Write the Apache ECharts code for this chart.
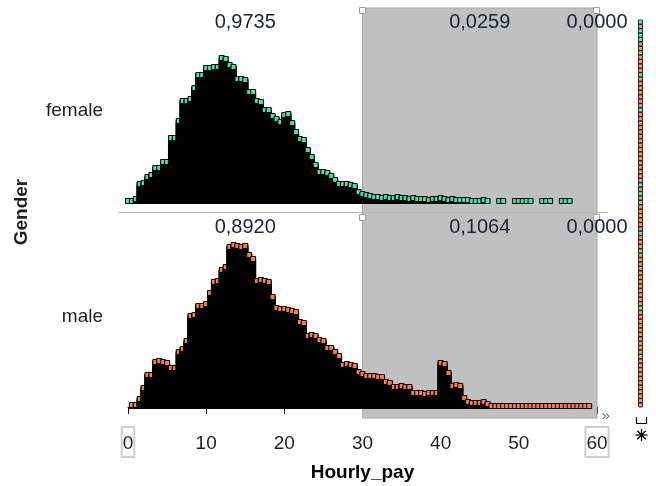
<!DOCTYPE html>
<html>
<head>
<meta charset="utf-8">
<script src="https://cdn.jsdelivr.net/npm/echarts@6/dist/echarts.min.js"></script>
<style>
html, body { margin: 0; padding: 0; background: #ffffff; }
#chart { width: 656px; height: 486px; }
</style>
</head>
<body>
<div id="chart"></div>
<script>
// Hourly pay, stacked dot plot split by gender (bins of 0.5 currency units)
const binWidth = 0.5;

// number of cases in each bin, bin i covers pay i * binWidth
const femaleCounts = [
  1, 1, 3, 18, 19, 25, 27, 34, 34, 40, 40, 64, 64, 81, 101, 101, 103, 114, 127, 127,
  134, 134, 135, 135, 144, 143, 137, 135, 123, 123, 122, 110, 110, 101, 100, 92, 92, 86, 83, 80,
  87, 88, 79, 70, 63, 62, 52, 45, 37, 30, 30, 29, 26, 22, 18, 18, 18, 17, 16, 10,
  8, 7, 6, 5, 5, 4, 5, 4, 4, 5, 4, 4, 3, 4, 3, 3, 3, 2, 3, 3,
  4, 3, 2, 3, 2, 2, 2, 2, 1, 1, 1, 2, 1, 0, 0, 1, 1, 0, 0, 1,
  1, 1, 1, 1, 0, 0, 1, 1, 1, 0, 0, 1, 1, 1, 0, 0, 0, 0, 0, 0
];
const maleCounts = [
  0, 2, 2, 8, 19, 32, 32, 45, 46, 45, 44, 39, 39, 55, 58, 66, 91, 92, 101, 101,
  103, 114, 125, 126, 137, 140, 160, 162, 161, 160, 161, 152, 148, 126, 127, 126, 125, 110, 99, 98,
  98, 97, 96, 95, 85, 84, 71, 72, 71, 67, 66, 59, 59, 55, 51, 42, 43, 42, 41, 35,
  33, 31, 31, 31, 30, 30, 25, 24, 20, 20, 21, 20, 20, 14, 14, 14, 13, 14, 14, 14,
  44, 43, 34, 21, 22, 21, 9, 5, 4, 4, 4, 5, 3, 1, 1, 1, 1, 1, 1, 1,
  1, 1, 1, 1, 1, 1, 1, 1, 1, 1, 1, 1, 1, 1, 1, 1, 1, 1, 1, 0
];

// shaded interval and the share of each gender falling below / inside / above it
const intervalBounds = [30, 60];
const femaleShares = ['0,9735', '0,0259', '0,0000'];
const maleShares = ['0,8920', '0,1064', '0,0000'];

const payTicks = [0, 10, 20, 30, 40, 50, 60];
const groupNames = ['female', 'male'];

// case list shown in the side strip (f = female, m = male)
const caseGenders = 'fmfffmmfmmmmfmmmmmmmfmmmmmmmmmmmmmmmmfmfmfmmmmmmfmmmfmmmmmmmmmmmmfmmmmmmmmmmfmmmmmmmmmmm'.split('');

const GREEN = '#3be5b2';
const ORANGE = '#f97a4a';
const FONT = '"Liberation Sans", Arial, sans-serif';

// one square per case, stacked upwards in its bin; buried squares read as solid black
function stackDots(counts, color) {
  const pts = [];
  counts.forEach(function (n, i) {
    for (let k = 1; k <= n; k++) {
      pts.push({ value: [i * binWidth, k], itemStyle: { color: k === n ? color : '#000000' } });
    }
  });
  return pts;
}

const chart = echarts.init(document.getElementById('chart'), null, { renderer: 'canvas' });

const payMin = payTicks[0];
const payMax = payTicks[payTicks.length - 1];

const dotSeries = function (name, idx, counts, color) {
  return {
    type: 'scatter',
    name: name,
    xAxisIndex: idx,
    yAxisIndex: idx,
    symbol: 'rect',
    symbolSize: 5,
    silent: true,
    progressive: 0,
    large: false,
    animation: false,
    itemStyle: { borderColor: '#000000', borderWidth: 1, opacity: 1 },
    data: stackDots(counts, color),
    z: 3
  };
};

chart.setOption({
  animation: false,
  backgroundColor: '#ffffff',
  grid: [
    { left: 128, right: 59, top: 8, bottom: 68 },
    { left: 128, right: 59, top: 52, height: 150 },
    { left: 128, right: 59, top: 237, height: 170 },
    { left: 637, width: 7, top: 22, height: 383 }
  ],
  xAxis: [
    { gridIndex: 0, type: 'value', min: payMin, max: payMax, show: false },
    { gridIndex: 1, type: 'value', min: payMin, max: payMax, show: false },
    {
      gridIndex: 2, type: 'value', min: payMin, max: payMax, interval: 10,
      position: 'bottom', offset: 12,
      splitLine: { show: false },
      axisLine: { show: true, lineStyle: { color: '#000000', width: 1 } },
      axisTick: { show: true, inside: false, length: 7, lineStyle: { color: '#000000', width: 1 } },
      axisLabel: {
        margin: 12,
        formatter: function (v) {
          return (v === payMin || v === payMax) ? '{box|' + v + '}' : '{n|' + v + '}';
        },
        rich: {
          box: {
            fontFamily: FONT, fontSize: 19, color: '#1e1e1e', lineHeight: 22,
            borderColor: '#cfcfcf', borderWidth: 2, padding: [7, 1, 4, 1]
          },
          n: { fontFamily: FONT, fontSize: 19, color: '#1e1e1e', lineHeight: 22, padding: [7, 1, 4, 1] }
        }
      },
      name: 'Hourly_pay',
      nameLocation: 'middle',
      nameGap: 44,
      nameTextStyle: { fontFamily: FONT, fontSize: 19, fontWeight: 'bold', color: '#000000' }
    },
    { gridIndex: 3, type: 'value', min: -1, max: 1, show: false }
  ],
  yAxis: [
    { gridIndex: 0, type: 'value', min: 0, max: 1, show: false },
    { gridIndex: 1, type: 'value', min: 0, max: 150, show: false },
    { gridIndex: 2, type: 'value', min: 0, max: 170, show: false },
    { gridIndex: 3, type: 'value', min: 0, max: caseGenders.length - 1, inverse: true, show: false }
  ],
  series: [
    {
      type: 'line', xAxisIndex: 0, yAxisIndex: 0, silent: true,
      data: [[payMin, 0], [payMax, 0]], showSymbol: false,
      lineStyle: { opacity: 0 }, z: 1,
      markArea: {
        silent: true,
        itemStyle: { color: '#c0c0c0', borderColor: '#a6a6a6', borderWidth: 1 },
        data: [[{ xAxis: intervalBounds[0] }, { xAxis: intervalBounds[1] }]]
      }
    },
    dotSeries(groupNames[0], 1, femaleCounts, GREEN),
    dotSeries(groupNames[1], 2, maleCounts, ORANGE),
    {
      type: 'scatter', xAxisIndex: 3, yAxisIndex: 3, symbol: 'rect', symbolSize: 4,
      silent: true, progressive: 0,
      data: caseGenders.map(function (g, i) {
        return { value: [0, i], itemStyle: { color: g === 'f' ? GREEN : ORANGE } };
      }),
      itemStyle: { borderColor: '#000000', borderWidth: 1 },
      z: 3
    }
  ]
});

// overlay: shares, group labels, handles and small glyphs, placed through the pay axis
const px = function (v) { return chart.convertToPixel({ xAxisIndex: 2 }, v); };
const xLo = px(payMin), xA = px(intervalBounds[0]), xB = px(intervalBounds[1]);
const shareX = [(xLo + xA) / 2, (xA + xB) / 2, xB];

function txt(text, x, y, opts) {
  opts = opts || {};
  return {
    type: 'text', x: x, y: y, rotation: opts.rotation || 0, z: 10, silent: true,
    style: {
      text: text, x: 0, y: 0,
      font: (opts.weight || 'normal') + ' ' + (opts.size || 19) + 'px ' + FONT,
      fill: opts.color || '#1e1e1e',
      align: opts.align || 'center', verticalAlign: 'middle'
    }
  };
}

const graphics = [];
femaleShares.forEach(function (s, i) { graphics.push(txt(s, shareX[i], 22, { size: 20, color: '#1c2230' })); });
maleShares.forEach(function (s, i) { graphics.push(txt(s, shareX[i], 227, { size: 20, color: '#1c2230' })); });
graphics.push(txt(groupNames[0], 103, 111, { align: 'right' }));
graphics.push(txt(groupNames[1], 103, 317, { align: 'right' }));
graphics.push(txt('Gender', 22, 212, { weight: 'bold', rotation: Math.PI / 2 }));
graphics.push(txt('\u00bb', 606, 416, { size: 15, color: '#707070' }));

// separator between the two panels
graphics.push({
  type: 'line', z: 5, silent: true,
  shape: { x1: 118, y1: 212.5, x2: 608, y2: 212.5 },
  style: { stroke: '#b2b2b2', lineWidth: 1 }
});

// interval handles
[11, 218].forEach(function (hy) {
  [xA, xB].forEach(function (hx) {
    graphics.push({
      type: 'rect', z: 6, silent: true,
      shape: { x: Math.round(hx) - 3.5, y: hy - 3.5, width: 6, height: 6 },
      style: { fill: '#ffffff', stroke: '#a0a0a0', lineWidth: 1 }
    });
  });
});

// bracket and asterisk under the case strip
graphics.push({
  type: 'polyline', z: 6, silent: true,
  shape: { points: [[636.5, 417], [636.5, 423.5], [646.5, 423.5], [646.5, 417]] },
  style: { stroke: '#000000', lineWidth: 1.2, fill: null }
});
const cx = 641.5, cy = 435, r = 6;
[0, Math.PI / 4, Math.PI / 2, 3 * Math.PI / 4].forEach(function (a) {
  graphics.push({
    type: 'line', z: 6, silent: true,
    shape: { x1: cx - r * Math.cos(a), y1: cy - r * Math.sin(a), x2: cx + r * Math.cos(a), y2: cy + r * Math.sin(a) },
    style: { stroke: '#000000', lineWidth: 1.2 }
  });
});

chart.setOption({ graphic: graphics });
</script>
</body>
</html>
